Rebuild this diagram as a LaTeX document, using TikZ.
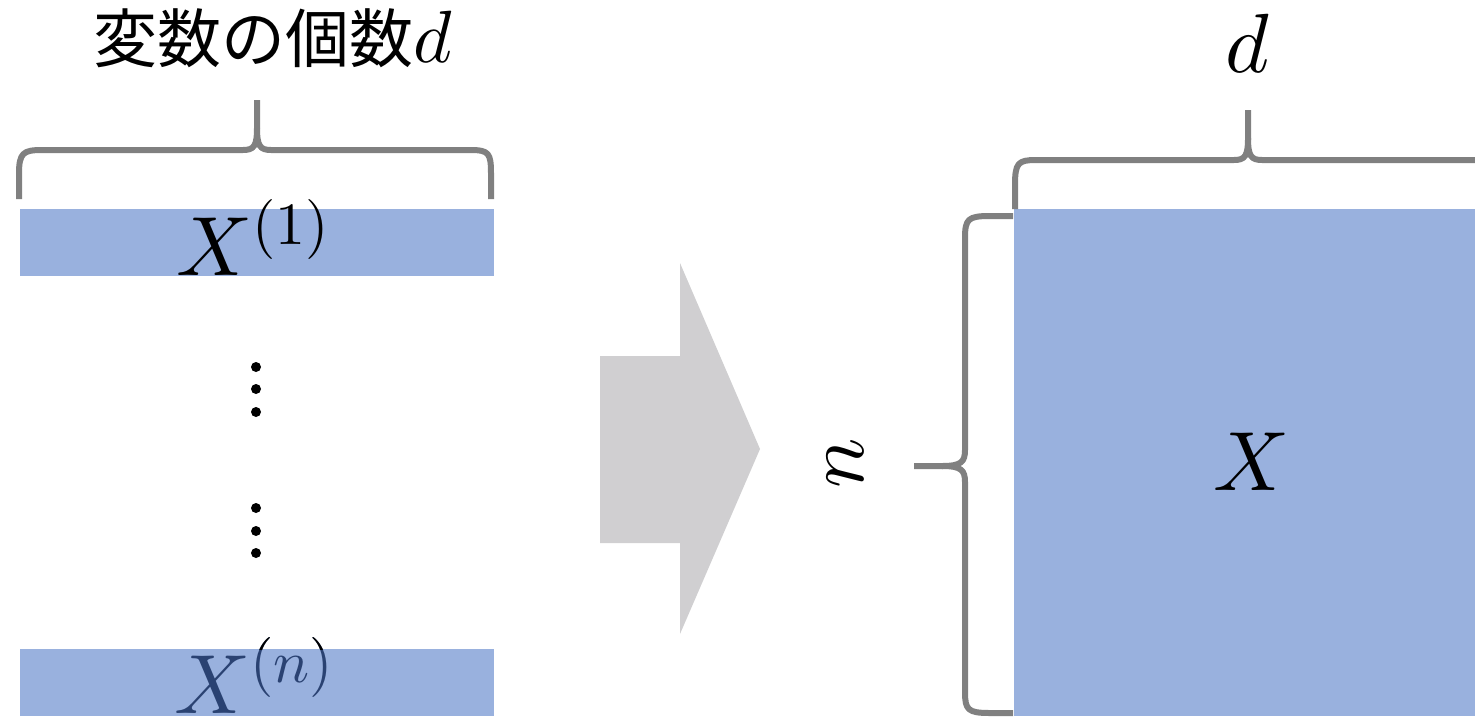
\documentclass[tikz,border=0pt]{standalone}
\usepackage{fontspec}
\newfontfamily\cjk{Noto Sans CJK JP}
% let the math fonts scale freely to large sizes
\DeclareFontShape{OML}{cmm}{m}{it}{<->cmmi10}{}
\DeclareFontShape{OT1}{cmr}{m}{n}{<->cmr10}{}
\DeclareFontShape{OMS}{cmsy}{m}{n}{<->cmsy10}{}
\DeclareMathSizes{42}{42}{30}{22}
\DeclareMathSizes{37}{37}{26}{19}
\definecolor{rowblue}{HTML}{99B1DE}
\definecolor{bracegray}{HTML}{808080}
\definecolor{arrowgray}{HTML}{D0CFD1}
\definecolor{navytext}{HTML}{2A4272}
\tikzset{
  rowbar/.style={fill=rowblue, draw=none, inner sep=0pt},
  brace/.style={draw=bracegray, line width=3pt, line cap=butt, line join=round},
  mathlabel/.style={inner sep=0pt, font=\fontsize{42}{50}\selectfont},
}
\begin{document}
\begin{tikzpicture}[x=0.5pt, y=-0.5pt]
\useasboundingbox (0,0) rectangle (1475,718);

% single observations (rows of length d)
\node[rowbar, minimum width=237pt, minimum height=33.5pt] (row1) at (257,242.5) {};
\node[rowbar, minimum width=237pt, minimum height=33.5pt] (rown) at (257,682.5) {};
\node[mathlabel, anchor=base west] (x1) at (176,275) {$X^{(1)}$};
\node[mathlabel, anchor=base west, text=navytext] (xn) at (174,713) {$X^{(n)}$};
\begin{scope}
  \clip (0,0) rectangle (1475,649);
  \node[mathlabel, anchor=base west] (xntop) at (174,713) {$X^{(n)}$};
\end{scope}

% vertical ellipses between the rows
\foreach \y in {367,389,412,508,531,553}
  \fill (256,\y) circle (5);

% label above the rows
\node[anchor=base, inner sep=0pt, font=\fontsize{32}{38}\cjk] (lab) at (273,62)
  {変数の個数{\fontsize{37}{40}\selectfont$d$}};

% brace over the first row
\draw[brace] (19,199) -- (19,174) .. controls (19,153) and (23,150) .. (42,150)
  -- (243,150) .. controls (254,150) and (257,146) .. (257,128) -- (257,100);
\draw[brace] (257,128) .. controls (257,146) and (260,150) .. (271,150)
  -- (470,150) .. controls (489,150) and (491,153) .. (491,174) -- (491,199);

% block arrow
\fill[arrowgray] (600,356) -- (680,356) -- (680,263) -- (760,449)
  -- (680,634) -- (680,543) -- (600,543) -- cycle;

% data matrix
\node[rowbar, minimum width=236pt, minimum height=253.5pt] (mat) at (1250,462.5) {};
\node[mathlabel, anchor=base] (xm) at (1252,490) {$X$};

% brace over the matrix
\draw[brace] (1015,209) -- (1015,185) .. controls (1015,163) and (1018,160) .. (1036,160)
  -- (1234,160) .. controls (1245,160) and (1248,156) .. (1248,138) -- (1248,110);
\draw[brace] (1248,138) .. controls (1248,156) and (1251,160) .. (1262,160) -- (1490,160);
\node[mathlabel, anchor=base] (dlab) at (1247,72) {$d$};

% brace beside the matrix
\draw[brace] (1013,216) -- (990,216) .. controls (968,216) and (965,219) .. (965,238)
  -- (965,450) .. controls (965,462) and (961,466) .. (942,466) -- (914,466);
\draw[brace] (942,466) .. controls (961,466) and (965,470) .. (965,482)
  -- (965,692) .. controls (965,710) and (968,713) .. (990,713) -- (1013,713);
\node[mathlabel, rotate=90] (nlab) at (845,463) {$n$};
\end{tikzpicture}
\end{document}
